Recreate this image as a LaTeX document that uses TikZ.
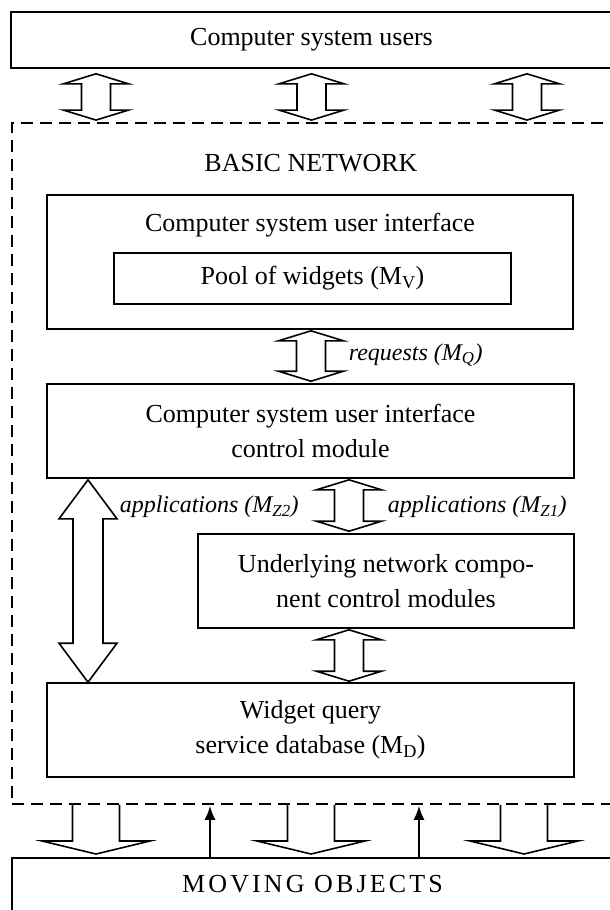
\documentclass[tikz,border=0pt]{standalone}
\usepackage{fontspec}
\setmainfont{Liberation Serif}
\usetikzlibrary{calc,arrows.meta}

\begin{document}
\begin{tikzpicture}[x=1pt, y=-1pt, line width=1.6pt,
		box_style/.style={rectangle,draw=black,inner sep=0pt,font=\fontsize{26}{35}\selectfont,align=center},
		text_style/.style={inner sep=0pt,font=\fontsize{26}{35}\selectfont},
		label_style/.style={inner sep=0pt,anchor=west,font=\fontsize{24}{28}\selectfont\itshape},
		frame_style/.style={draw=black,line width=1.8pt,dash pattern=on 12pt off 7pt},
		dbl_arrow/.style n args={3}{draw=black,fill=white,line join=miter,to path={
			-- ++(#2,#3) -- ++({#1-#2},0) -- ($(\tikztotarget)+(#1,-#3)$) -- ++({#2-#1},0)
			-- (\tikztotarget) -- ++(-#2,-#3) -- ++({#2-#1},0) -- ($(\tikztostart)+(-#1,#3)$)
			-- ++({#1-#2},0) -- cycle}},
		down_arrow/.style n args={3}{draw=black,to path={
			++(#1,0) -- ($(\tikztotarget)+(#1,-#3)$) -- ++({#2-#1},0) -- (\tikztotarget)
			-- ++(-#2,-#3) -- ++({#2-#1},0) -- ($(\tikztostart)+(-#1,0)$)}},
		thin_arrow/.style={draw=black,line width=1.7pt,-{Latex[length=14pt,width=11pt]}}]

		\clip (0,0) rectangle (610,910);

		\node[box_style, minimum width=601pt, minimum height=56pt] (users) at (311.5,40) {Computer system users};
		\node[frame_style, minimum width=601pt, minimum height=681pt] (network) at (312.5,463.5) {};
		\node[text_style] (basic) at (311,163) {BASIC NETWORK};

		\node[box_style, minimum width=526pt, minimum height=134pt] (ui) at (310,262) {};
		\node[text_style] (uititle) at (310,225) {Computer system user interface};
		\node[box_style, minimum width=397pt, minimum height=51pt] (pool) at (312.5,278.5) {Pool of widgets (M\textsubscript{V})};
		\node[box_style, minimum width=527pt, minimum height=94pt] (control) at (310.5,431) {Computer system user interface\\control module};
		\node[box_style, minimum width=376pt, minimum height=94pt] (under) at (386,581) {Underlying network compo-\\nent control modules};
		\node[box_style, minimum width=527pt, minimum height=94pt] (widget) at (310.5,730) {Widget query\\service database (M\textsubscript{D})};
		\node[draw=black, inner sep=0pt, minimum width=601pt, anchor=north, text height=34.5pt, text depth=30pt,
			font=\fontsize{26}{35}\selectfont] (moving) at (312.5,857) {\addfontfeatures{LetterSpace=12}MOVING OBJECTS};

		\node[label_style] (req) at (348,355) {requests (M\textsubscript{Q})};
		\node[label_style] (appz2) at (119,507) {applications (M\textsubscript{Z2})};
		\node[label_style] (appz1) at (387,507) {applications (M\textsubscript{Z1})};

		\coordinate (a1) at ($(users.south)+(-215.5,5)$);
		\coordinate (b1) at ($(network.north)+(-216.5,-2)$);
		\coordinate (a2) at ($(users.south)+(0,5)$);
		\coordinate (b2) at ($(network.north)+(-1,-2)$);
		\coordinate (a3) at ($(users.south)+(215.5,5)$);
		\coordinate (b3) at ($(network.north)+(214.5,-2)$);
		\coordinate (rq1) at ($(ui.south)+(1,1)$);
		\coordinate (rq2) at ($(control.north)+(0.5,-2)$);
		\coordinate (z1a) at ($(control.south)+(38.5,1)$);
		\coordinate (z1b) at ($(under.north)+(-37,-2)$);
		\coordinate (ua) at ($(under.south)+(-37,1)$);
		\coordinate (ub) at ($(widget.north)+(38.5,-1)$);
		\coordinate (z2a) at ($(control.south)+(-222.5,1)$);
		\coordinate (z2b) at ($(widget.north)+(-222.5,0)$);

		\draw[dbl_arrow={14.5}{32.5}{10}] (a1) to (b1);
		\draw[dbl_arrow={14.5}{32.5}{10}] (a2) to (b2);
		\draw[dbl_arrow={14.5}{32.5}{10}] (a3) to (b3);
		\draw[dbl_arrow={14.5}{32.5}{10}] (rq1) to (rq2);
		\draw[dbl_arrow={14.5}{32.5}{10}] (z1a) to (z1b);
		\draw[dbl_arrow={14.5}{32.5}{10}] (ua) to (ub);
		\draw[dbl_arrow={15}{29}{39}] (z2a) to (z2b);

		\coordinate (d1) at ($(network.south)+(-216.5,0)$);
		\coordinate (e1) at ($(moving.north)+(-216.5,-3)$);
		\coordinate (d2) at ($(network.south)+(-1.5,0)$);
		\coordinate (e2) at ($(moving.north)+(-1.5,-3)$);
		\coordinate (d3) at ($(network.south)+(211.5,0)$);
		\coordinate (e3) at ($(moving.north)+(211.5,-3)$);

		\draw[down_arrow={23.5}{54}{13}] (d1) to (e1);
		\draw[down_arrow={23.5}{54}{13}] (d2) to (e2);
		\draw[down_arrow={23.5}{54}{13}] (d3) to (e3);

		\draw[thin_arrow] ($(moving.north)+(-102.5,0)$) -- ($(network.south)+(-102.5,1)$);
		\draw[thin_arrow] ($(moving.north)+(106.5,0)$) -- ($(network.south)+(106.5,1)$);

\end{tikzpicture}
\end{document}
